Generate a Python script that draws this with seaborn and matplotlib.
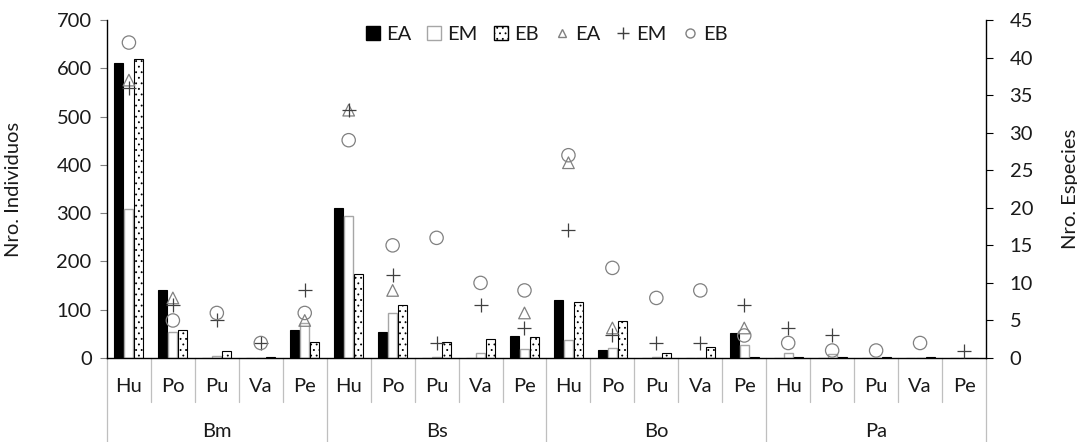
import numpy as np
import pandas as pd
import matplotlib
matplotlib.use("Agg")
import matplotlib.pyplot as plt
from matplotlib.patches import Patch
from matplotlib.lines import Line2D
import matplotlib.transforms as mtransforms
import seaborn as sns

# ---------------- data ----------------
groups = ["Bm", "Bs", "Bo", "Pa"]
cats = ["Hu", "Po", "Pu", "Va", "Pe"]

# Nro. Individuos (bars)
ind_EA = [610, 141, 0, 0, 58,   310, 53, 0, 0, 45,   121, 16, 0, 0, 51,   0, 0, 0, 0, 0]
ind_EM = [308, 54, 5, 1, 72,    294, 93, 2, 11, 19,  38, 20, 2, 1, 28,    10, 8, 0, 0, 0]
ind_EB = [620, 59, 14, 2, 33,   173, 109, 34, 40, 43, 115, 76, 10, 23, 3,  2, 2, 2, 2, 0]

# Nro. Especies (markers)
nan = np.nan
esp_EA = [37, 8, nan, nan, 5,   33, 9, nan, nan, 6,   26, 4, nan, nan, 4,   nan, nan, nan, nan, nan]
esp_EM = [36, 7, 5, 2, 9,       33, 11, 2, 7, 4,      17, 3, 2, 2, 7,       4, 3, nan, nan, 1]
esp_EB = [42, 5, 6, 2, 6,       29, 15, 16, 10, 9,    27, 12, 8, 9, 3,      2, 1, 1, 2, nan]

series = ["EA", "EM", "EB"]
left_ticks = [0, 100, 200, 300, 400, 500, 600, 700]
right_ticks = [0, 5, 10, 15, 20, 25, 30, 35, 40, 45]

# ---------------- style ----------------
sns.set_theme(style="white")
plt.rcParams["font.family"] = ["Lato", "DejaVu Sans"]
plt.rcParams["hatch.linewidth"] = 0.6
plt.rcParams["hatch.color"] = "black"

FS = 14.5
TXT = "#1a1a1a"
keys = [f"{g}-{c}" for g in groups for c in cats]
n = len(keys)

df = pd.DataFrame({
    "key": keys * 3,
    "serie": sum([[s] * n for s in series], []),
    "val": ind_EA + ind_EM + ind_EB,
})

fig = plt.figure(figsize=(10.77, 4.42), dpi=100)
ax = fig.add_axes([0.0993, 0.19, 0.8162, 0.7647])

sns.barplot(data=df, x="key", y="val", hue="serie", order=keys, hue_order=series,
            width=0.68, gap=0.1, palette=["black", "white", "white"],
            legend=False, ax=ax, saturation=1)

styles = [
    dict(facecolor="black", edgecolor="black", hatch=None, lw=0.8),
    dict(facecolor="white", edgecolor="#a6a6a6", hatch=None, lw=1.0),
    dict(facecolor="white", edgecolor="black", hatch="...", lw=0.8),
]
for cont, st in zip(ax.containers, styles):
    for p in cont.patches:
        p.set_facecolor(st["facecolor"])
        p.set_edgecolor(st["edgecolor"])
        p.set_linewidth(st["lw"])
        if st["hatch"]:
            p.set_hatch(st["hatch"])

ax.set_xlim(-0.5, n - 0.5)
ax.set_ylim(0, 700)
ax.set_yticks(left_ticks)
ax.set_yticklabels([str(t) for t in left_ticks], fontsize=FS, color=TXT)
ax.set_ylabel("Nro. Individuos", fontsize=FS, color=TXT)
ax.yaxis.set_label_coords(-0.097, 0.5)
ax.set_xlabel("")
ax.set_xticks([])
ax.tick_params(axis="y", which="major", direction="out", length=5, width=0.8,
               color="#808080", left=True, pad=6)
for sp in ["top", "right"]:
    ax.spines[sp].set_visible(False)
ax.spines["left"].set_color("black")
ax.spines["bottom"].set_color("black")
ax.spines["left"].set_linewidth(1.0)
ax.spines["bottom"].set_linewidth(1.0)

# ---------------- species markers ----------------
ax2 = ax.twinx()
pos = np.arange(n)
grey = "#808080"
sns.scatterplot(x=pos, y=esp_EA, marker="^", s=70, facecolors="none",
                edgecolors=grey, linewidths=0.9, ax=ax2, zorder=5)
sns.scatterplot(x=pos, y=esp_EM, marker="+", s=95, color="#404040",
                linewidths=0.9, ax=ax2, zorder=5)
sns.scatterplot(x=pos, y=esp_EB, marker="o", s=92, facecolors="none",
                edgecolors=grey, linewidths=0.9, ax=ax2, zorder=5)
ax2.set_ylim(0, 45)
ax2.set_xlim(-0.5, n - 0.5)
ax2.set_yticks(right_ticks)
ax2.set_yticklabels([str(t) for t in right_ticks], fontsize=FS, color=TXT)
ax2.set_ylabel("Nro. Especies", fontsize=FS, color=TXT, rotation=90)
ax2.yaxis.set_label_coords(1.086, 0.5)
ax2.tick_params(axis="y", direction="out", length=5, width=0.8, color="black",
                right=True, pad=12)
for sp in ["top", "left", "bottom"]:
    ax2.spines[sp].set_visible(False)
ax2.spines["right"].set_color("black")
ax2.spines["right"].set_linewidth(1.0)

# ---------------- multi-level x axis ----------------
trans = mtransforms.blended_transform_factory(ax.transData, ax.transAxes)
line_col = "#bfbfbf"
for k in range(n + 1):
    is_group = (k % len(cats) == 0)
    y_end = -0.25 if is_group else -0.13
    ax.plot([k - 0.5, k - 0.5], [0, y_end], transform=trans, color=line_col,
            lw=0.9, clip_on=False, zorder=1)
for i, key in enumerate(keys):
    ax.text(i, -0.085, cats[i % len(cats)], transform=trans, ha="center",
            va="center", fontsize=FS, color=TXT)
for gi, g in enumerate(groups):
    center = gi * len(cats) + (len(cats) - 1) / 2
    ax.text(center, -0.218, g, transform=trans, ha="center", va="center",
            fontsize=FS, color=TXT)

# ---------------- legend ----------------
handles = [
    Patch(facecolor="black", edgecolor="black", label="EA"),
    Patch(facecolor="white", edgecolor="#a6a6a6", label="EM"),
    Patch(facecolor="white", edgecolor="black", hatch="...", label="EB"),
    Line2D([], [], marker="^", ls="none", mfc="none", mec=grey, ms=6, label="EA"),
    Line2D([], [], marker="+", ls="none", color="#404040", ms=9, label="EM"),
    Line2D([], [], marker="o", ls="none", mfc="none", mec=grey, ms=6.5, label="EB"),
]
leg = ax2.legend(handles=handles, loc="upper center", bbox_to_anchor=(0.5, 1.035),
                 ncol=6, frameon=False, fontsize=FS, handlelength=0.7,
                 handleheight=0.7, handletextpad=0.3, columnspacing=0.8)
for t in leg.get_texts():
    t.set_color(TXT)

fig.savefig("out.png", dpi=100)
